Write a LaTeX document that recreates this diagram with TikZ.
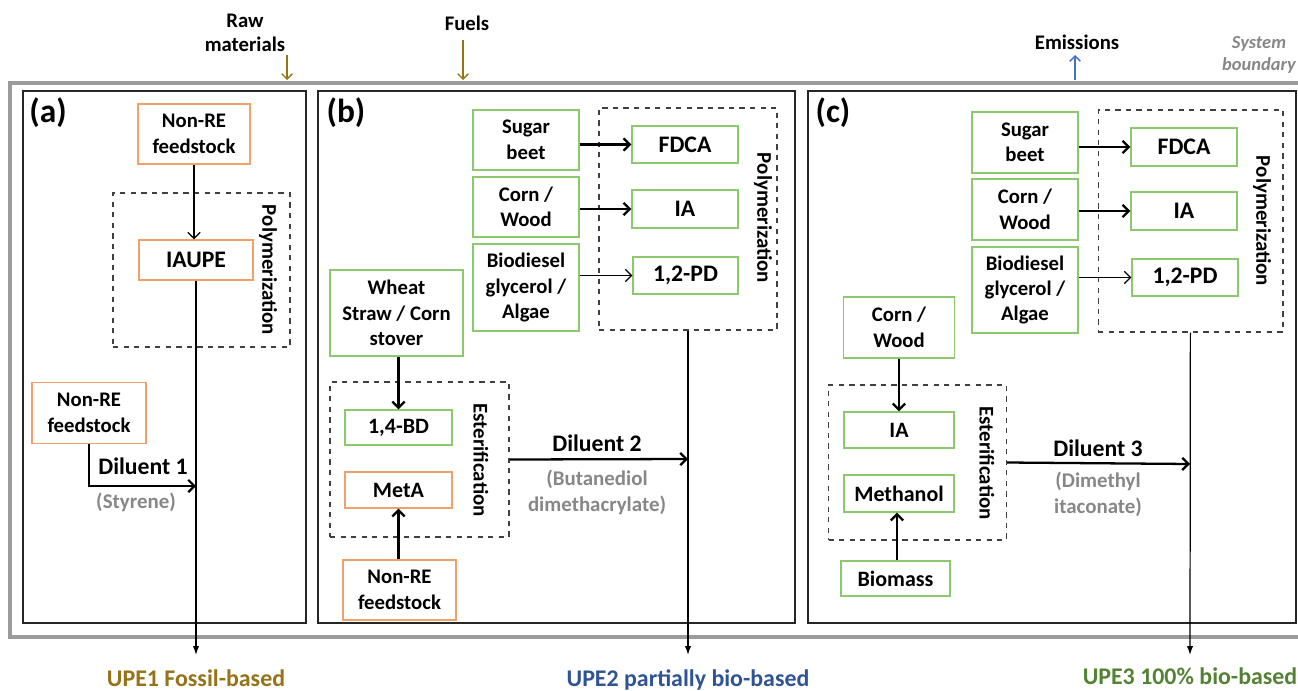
\documentclass[tikz,border=0pt]{standalone}
\usepackage{fontspec}
\setmainfont{Carlito}
\usepackage{tikz}
\usetikzlibrary{arrows.meta,positioning}
\definecolor{FossilOrange}{RGB}{241,160,105}
\definecolor{BioGreen}{RGB}{140,200,110}
\definecolor{NoteGray}{RGB}{135,135,135}
\definecolor{BoundGray}{RGB}{155,155,155}
\definecolor{UPEOlive}{RGB}{150,115,25}
\definecolor{UPEBlue}{RGB}{47,84,150}
\definecolor{UPEGreen}{RGB}{84,130,53}
\definecolor{EmisBlue}{RGB}{68,114,196}

\begin{document}
\begin{tikzpicture}[x=0.02cm,y=-0.02cm,
  font=\bfseries,
  fossil/.style={draw=FossilOrange,line width=0.8pt,align=center,inner sep=2pt,
                 font=\bfseries\fontsize{11.8}{14.5}\selectfont},
  renew/.style={draw=BioGreen,line width=0.8pt,align=center,inner sep=2pt,
                font=\bfseries\fontsize{11.8}{14.5}\selectfont},
  single/.style={font=\bfseries\fontsize{12.5}{15}\selectfont},
  big/.style={font=\bfseries\fontsize{13.5}{15}\selectfont},
  stage/.style={draw=black!75,dashed,line width=0.6pt},
  stagelbl/.style={rotate=-90,font=\bfseries\fontsize{11.9}{13}\selectfont},
  frame/.style={draw=black!85,line width=1.3pt},
  tag/.style={font=\bfseries\fontsize{19}{22}\selectfont},
  flow/.style={line width=1.3pt,-{Straight Barb[length=3.5pt,width=7pt]}},
  feed/.style={line width=0.7pt,-{Straight Barb[length=3.5pt,width=7pt]}},
  product/.style={line width=0.7pt,-{Latex[length=5pt,width=3.5pt]}},
  dil/.style={font=\bfseries\fontsize{13.5}{15}\selectfont},
  note/.style={text=NoteGray,align=center,font=\bfseries\fontsize{11.9}{14.7}\selectfont},
  upe/.style={font=\bfseries\fontsize{13.6}{15}\selectfont},
  io/.style={align=center,font=\bfseries\fontsize{11.8}{14}\selectfont},
]
\useasboundingbox (0,0) rectangle (1298,690);

% system boundary and panels
\draw[BoundGray,line width=1.8pt] (10,83) rectangle (1300,637);
\draw[frame] (23,91) rectangle (306,623);
\draw[frame] (318,91) rectangle (795,623);
\draw[frame] (808,91) rectangle (1296,623);
\node[text=NoteGray,align=center,font=\bfseries\itshape\fontsize{10.5}{12.8}\selectfont] (sysb) at (1259,55) {System\\boundary};

% inputs and outputs of the system
\node[io] (raw) at (245,33) {Raw\\materials};
\coordinate (rawtop) at (287,55);
\coordinate (rawbot) at (287,80);
\draw[UPEOlive,line width=0.8pt,-{Straight Barb[length=3pt,width=6pt]}] (rawtop) -- (rawbot);
\node[io] (fuel) at (467,23) {Fuels};
\coordinate (fueltop) at (463,40);
\coordinate (fuelbot) at (463,80);
\draw[UPEOlive,line width=0.8pt,-{Straight Barb[length=3pt,width=6pt]}] (fueltop) -- (fuelbot);
\node[io] (emis) at (1077,42) {Emissions};
\coordinate (emisbot) at (1075,80);
\coordinate (emistop) at (1075,55);
\draw[EmisBlue,line width=0.8pt,-{Straight Barb[length=3pt,width=6pt]}] (emisbot) -- (emistop);

% (a) fossil-based
\node[tag] (taga) at (48,113) {(a)};
\node[stage,minimum width=3.54cm,minimum height=3.08cm] (polya) at (201.5,270) {};
\node[stagelbl] (polyalbl) at (268,270) {Polymerization};
\node[fossil,minimum width=2.24cm,minimum height=1.2cm] (nonrea) at (194,134) {Non-RE\\feedstock};
\node[fossil,big,minimum width=2.28cm,minimum height=0.8cm] (iaupe) at (196,260) {IAUPE};
\node[fossil,minimum width=2.28cm,minimum height=1.22cm] (nonrea2) at (89,413) {Non-RE\\feedstock};
\coordinate (dila) at (196,486);
\coordinate (outa) at (196,655);
\draw[feed] (nonrea) -- (nonrea.south |- iaupe.north);
\draw[product] (iaupe) -- (outa);
\draw[flow] (nonrea2) |- (dila);
\node[dil] (dilalbl) at (143,466) {Diluent 1};
\node[note] (dilanote) at (136,502) {(Styrene)};
\node[upe,text=UPEOlive] (upe1) at (196,678) {UPE1 Fossil-based};

% (b) partially bio-based
\node[tag] (tagb) at (346,113) {(b)};
\node[stage,minimum width=3.56cm,minimum height=4.44cm] (polyb) at (688,219) {};
\node[stagelbl] (polyblbl) at (763,218) {Polymerization};
\node[renew,minimum width=2.12cm,minimum height=1.2cm] (sugarb) at (526,140) {Sugar\\beet};
\node[renew,minimum width=2.12cm,minimum height=1.2cm] (cornb) at (526,207) {Corn /\\Wood};
\node[renew,minimum width=2.12cm,minimum height=1.74cm] (biob) at (526,287.5) {Biodiesel\\glycerol /\\Algae};
\node[renew,big,minimum width=2.12cm,minimum height=0.74cm] (fdcab) at (685,144.5) {FDCA};
\node[renew,big,minimum width=2.12cm,minimum height=0.76cm] (iab) at (685,209) {IA};
\node[renew,big,minimum width=2.1cm,minimum height=0.74cm] (pdb) at (685.5,275.5) {1,2-PD};
\draw[flow] (sugarb.east |- fdcab) -- (fdcab);
\draw[flow] (cornb.east |- iab) -- (iab);
\draw[feed] (biob.east |- pdb) -- (pdb);
\node[renew,minimum width=2.66cm,minimum height=1.72cm] (wheatb) at (396.5,313) {Wheat\\Straw / Corn\\stover};
\node[stage,minimum width=3.58cm,minimum height=3.1cm] (esterb) at (419.5,459.5) {};
\node[stagelbl] (esterblbl) at (481,460) {Esterification};
\node[renew,single,minimum width=2.14cm,minimum height=0.7cm] (bdb) at (398.5,427.5) {1,4-BD};
\node[fossil,single,minimum width=2.14cm,minimum height=0.72cm] (metab) at (398.5,490) {MetA};
\node[fossil,minimum width=2.26cm,minimum height=1.2cm] (nonreb) at (399.5,590) {Non-RE\\feedstock};
\draw[flow] (wheatb.south -| bdb) -- (bdb);
\draw[flow] (nonreb.north -| metab) -- (metab);
\coordinate (dilb) at (688,459);
\coordinate (outb) at (688,655);
\draw[flow] (esterb.east) -- (dilb);
\draw[product] (polyb) -- (outb);
\node[dil] (dilblbl) at (597,443) {Diluent 2};
\node[note] (dilbnote) at (597,492) {(Butanediol\\dimethacrylate)};
\node[upe,text=UPEBlue] (upe2) at (688,680) {UPE2 partially bio-based};

% (c) 100% bio-based
\node[tag] (tagc) at (833,113) {(c)};
\node[stage,minimum width=3.7cm,minimum height=4.44cm] (polyc) at (1190.5,221) {};
\node[stagelbl] (polyclbl) at (1262,221) {Polymerization};
\node[renew,minimum width=2.12cm,minimum height=1.22cm] (sugarc) at (1025,142.5) {Sugar\\beet};
\node[renew,minimum width=2.12cm,minimum height=1.22cm] (cornc) at (1025,209.5) {Corn /\\Wood};
\node[renew,minimum width=2.12cm,minimum height=1.72cm] (bioc) at (1025,290) {Biodiesel\\glycerol /\\Algae};
\node[renew,big,minimum width=2.12cm,minimum height=0.76cm] (fdcac) at (1184,147) {FDCA};
\node[renew,big,minimum width=2.12cm,minimum height=0.76cm] (iac) at (1184,211) {IA};
\node[renew,big,minimum width=2.12cm,minimum height=0.74cm] (pdc) at (1185,277.5) {1,2-PD};
\draw[flow] (sugarc.east |- fdcac) -- (fdcac);
\draw[flow] (cornc.east |- iac) -- (iac);
\draw[feed] (bioc.east |- pdc) -- (pdc);
\node[renew,minimum width=2.22cm,minimum height=1.22cm] (cornc2) at (899,327.5) {Corn /\\Wood};
\node[stage,minimum width=3.56cm,minimum height=3.1cm] (esterc) at (917.5,462.5) {};
\node[stagelbl] (estercl) at (987,463) {Esterification};
\node[renew,single,minimum width=2.2cm,minimum height=0.72cm] (iac2) at (899,430) {IA};
\node[renew,single,minimum width=2.2cm,minimum height=0.74cm] (methc) at (899,493.5) {Methanol};
\node[renew,single,minimum width=2.18cm,minimum height=0.7cm] (biomc) at (895.5,578.5) {Biomass};
\draw[flow] (cornc2) -- (iac2);
\draw[flow] (biomc.north -| 897,0) -- (methc.south -| 897,0);
\coordinate (dilc) at (1190,464);
\coordinate (outc) at (1190,655);
\draw[flow] (esterc.east) -- (dilc);
\draw[product] (polyc) -- (outc);
\node[dil] (dilclbl) at (1098,448) {Diluent 3};
\node[note] (dilcnote) at (1098,494) {(Dimethyl\\itaconate)};
\node[upe,text=UPEGreen] (upe3) at (1190,676) {UPE3 100\% bio-based};
\end{tikzpicture}
\end{document}
